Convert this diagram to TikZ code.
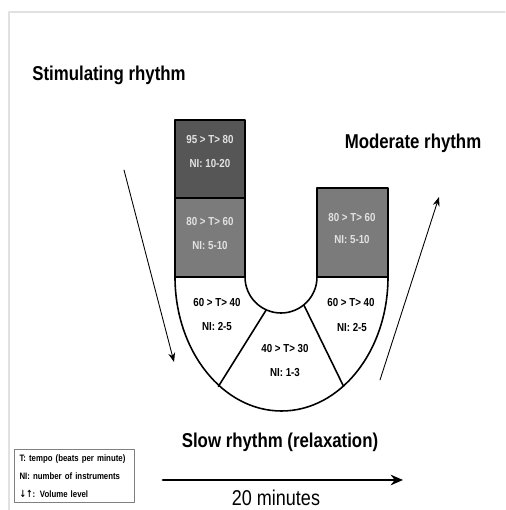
\documentclass[tikz,border=0pt]{standalone}
\usepackage{fontspec}
\setmainfont{Liberation Sans}
\newfontfamily\narrowfont[FakeStretch=0.84]{Liberation Sans}
\newfontfamily\arrowfont[FakeStretch=0.8]{DejaVu Sans}
\usetikzlibrary{arrows.meta,calc}

\definecolor{darkbox}{RGB}{86,86,86}
\definecolor{midbox}{RGB}{123,123,123}
\definecolor{boxtext}{RGB}{226,226,226}
\definecolor{framegray}{RGB}{225,225,225}

\begin{document}
\begin{tikzpicture}[x=0.02cm, y=0.02cm, >=Stealth, line cap=round, line join=round,
  title/.style={font=\narrowfont\bfseries\fontsize{11.4}{13}\selectfont},
  greytext/.style={font=\narrowfont\bfseries\fontsize{6.6}{7}\selectfont, text=boxtext},
  whitetext/.style={font=\narrowfont\bfseries\fontsize{6.6}{7}\selectfont, text=black}]

\useasboundingbox (0,0) rectangle (505,510);
\draw[framegray, line width=0.6pt] (9,0) -- (9,498) -- (505,498);

% the U
\coordinate (ctr) at (281,232);
\draw[line width=1.1pt, fill=darkbox] (175,312) rectangle (245,390);
\draw[line width=1.1pt, fill=midbox] (175,233) rectangle (245,312);
\draw[line width=1.1pt, fill=midbox] (317,233) rectangle (388,322);
\draw[line width=0.9pt, fill=white] (175,233) arc[start angle=180, end angle=360, x radius=106.5, y radius=134]
  -- (317,233) arc[start angle=0, end angle=-180, radius=36] -- cycle;
\coordinate (in1) at ($(ctr)+(245:36)$);
\coordinate (out1) at ($(ctr)+({106.5*cos(234)},{134*sin(234)})$);
\coordinate (in2) at ($(ctr)+(310:36)$);
\coordinate (out2) at ($(ctr)+({106.5*cos(306)},{134*sin(306)})$);
\draw[line width=0.9pt] (in1) -- (out1);
\draw[line width=0.9pt] (in2) -- (out2);

\node[greytext] (t1) at (210,370) {95 > T> 80};
\node[greytext] (n1) at (210,346) {NI: 10-20};
\node[greytext] (t2) at (210,288) {80 > T> 60};
\node[greytext] (n2) at (210,264) {NI: 5-10};
\node[greytext] (t6) at (352,292) {80 > T> 60};
\node[greytext] (n6) at (352,270) {NI: 5-10};
\node[whitetext] (t3) at (217,207) {60 > T> 40};
\node[whitetext] (n3) at (217,183) {NI: 2-5};
\node[whitetext] (t4) at (285,161) {40 > T> 30};
\node[whitetext] (n4) at (285,137) {NI: 1-3};
\node[whitetext] (t5) at (351,207) {60 > T> 40};
\node[whitetext] (n5) at (352,182) {NI: 2-5};

% titles and arrows
\node[title] (stim) at (109,435) {Stimulating rhythm};
\node[title] (mod) at (413,367) {Moderate rhythm};
\node[title] (slow) at (280,68) {Slow rhythm (relaxation)};
\coordinate (downA) at (124,340);
\coordinate (downB) at (174,148);
\coordinate (upA) at (380,130);
\coordinate (upB) at (439,313);
\draw[->, line width=0.5pt] (downA) -- (downB);
\draw[->, line width=0.5pt] (upA) -- (upB);

\coordinate (timeA) at (163,30);
\coordinate (timeB) at (403,30);
\draw[-{Stealth[length=7pt, width=6pt]}, line width=1.6pt] (timeA) -- (timeB);
\node[font=\narrowfont\fontsize{12.2}{14}\selectfont] (mins) at (276,12) {20 minutes};

\node[draw=gray, line width=0.6pt, align=left, inner sep=3pt, text width=2.2cm,
  font=\narrowfont\bfseries\fontsize{5.3}{10.3}\selectfont] (legend) at (74.5,34)
  {T: tempo (beats per minute)\\NI: number of instruments\\{\arrowfont\bfseries\fontsize{5.6}{10.3}\selectfont↓↑}: Volume level};

\end{tikzpicture}
\end{document}
